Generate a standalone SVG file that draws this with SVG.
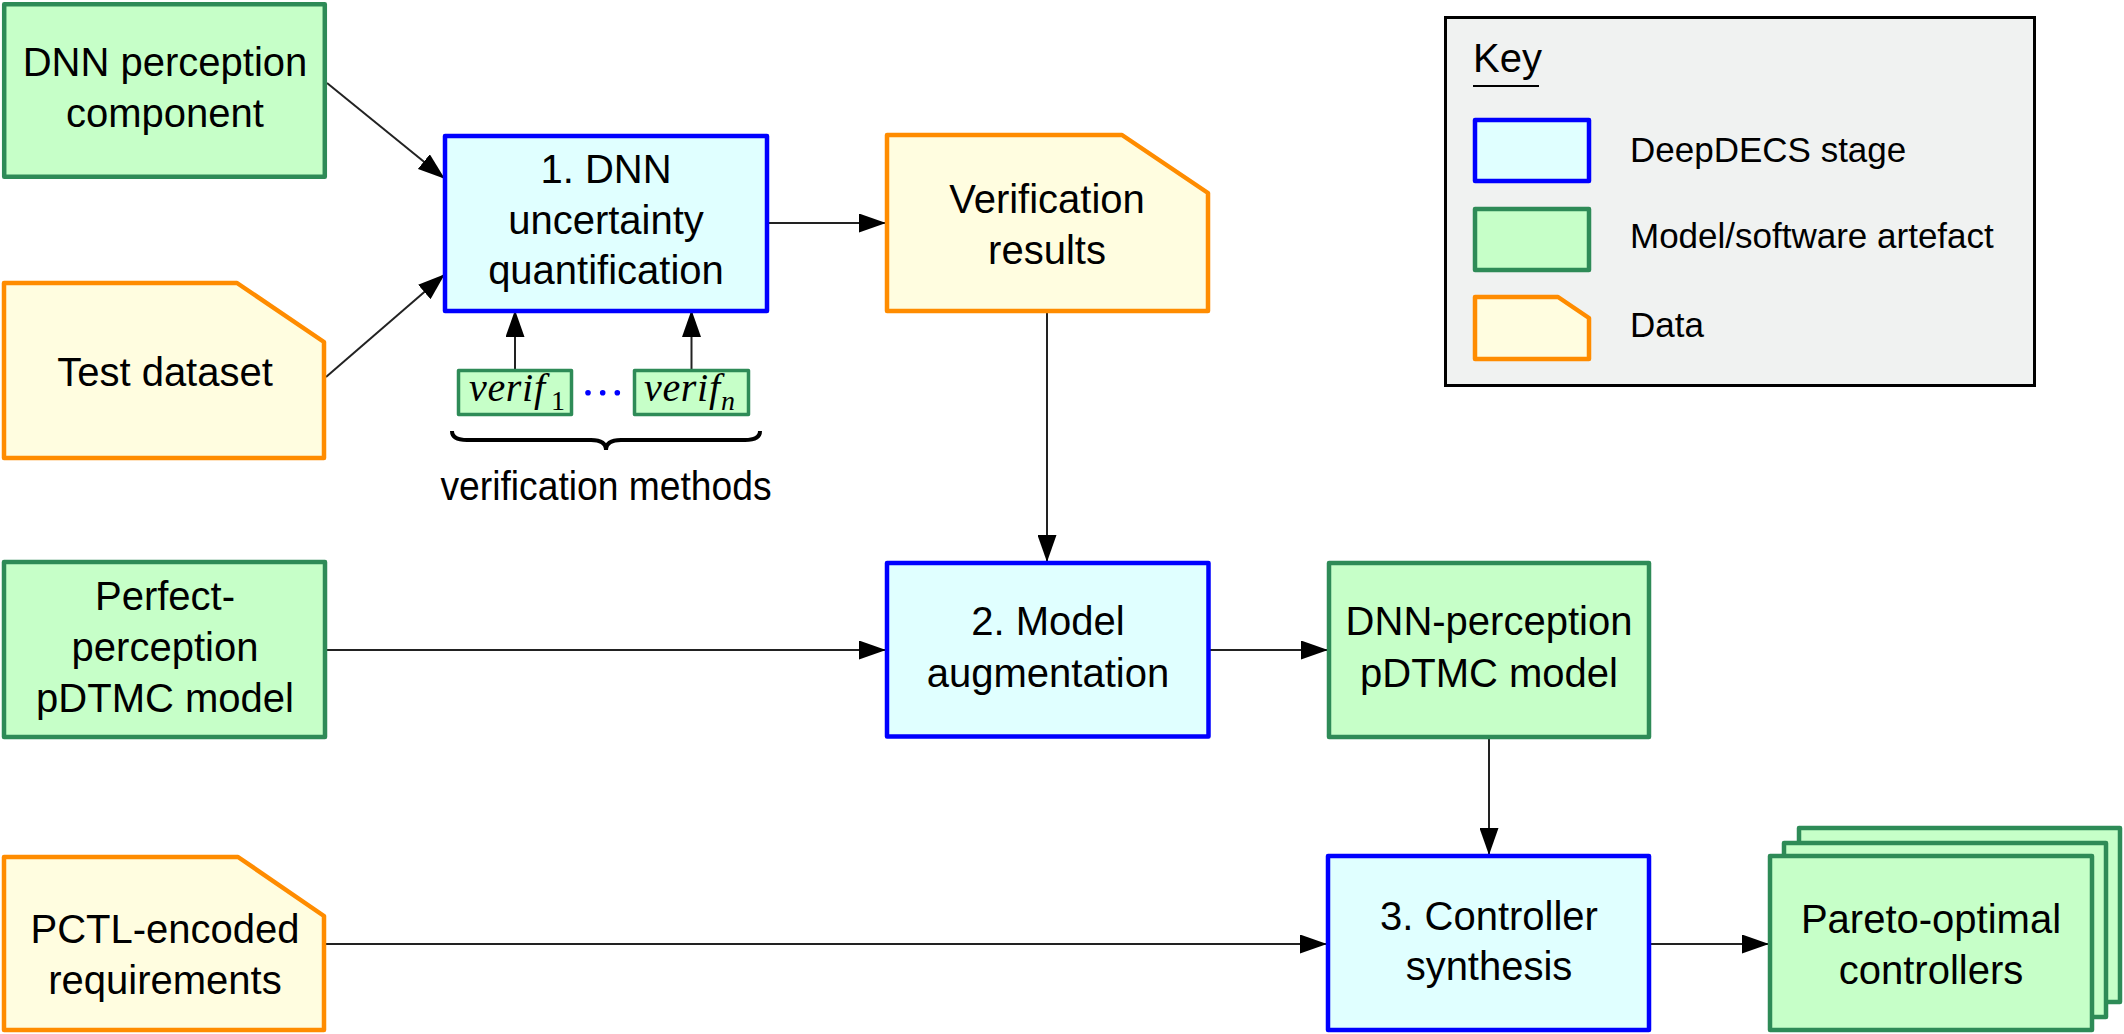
<svg xmlns="http://www.w3.org/2000/svg" width="2124" height="1034" viewBox="0 0 2124 1034">
<defs>
<style>
text{font-family:"Liberation Sans",Arial,sans-serif;font-size:40px;fill:#000;}
.c{text-anchor:middle;}
.stage{fill:#E0FFFF;stroke:#0000FF;stroke-width:4.5;stroke-linejoin:round;}
.art{fill:#C6FFC8;stroke:#2E8B57;stroke-width:4.5;stroke-linejoin:round;}
.data{fill:#FFFDE0;stroke:#FF8C00;stroke-width:4.5;stroke-linejoin:round;}
.small{stroke-width:3.5;}
.conn line{stroke:#222;stroke-width:2;marker-end:url(#arr);}
.lg{font-size:35px;}
.m{font-family:"Liberation Serif","Times New Roman",serif;font-style:italic;font-size:40px;}
.sub{font-family:"Liberation Serif","Times New Roman",serif;font-size:28px;}
</style>
<marker id="arr" markerUnits="userSpaceOnUse" markerWidth="27" markerHeight="19" viewBox="0 0 27 19" refX="26" refY="9.5" orient="auto">
<path d="M0,0 L27,9.5 L0,19 Z" fill="#000"/>
</marker>
</defs>
<rect width="2124" height="1034" fill="#fff"/>

<g id="connectors" class="conn">
<line x1="327" y1="83" x2="444" y2="178"/>
<line x1="326" y1="377" x2="444" y2="275"/>
<line x1="515" y1="369" x2="515" y2="311"/>
<line x1="691.5" y1="369" x2="691.5" y2="311"/>
<line x1="769" y1="223" x2="885" y2="223"/>
<line x1="1047" y1="313" x2="1047" y2="561"/>
<line x1="327" y1="650" x2="885" y2="650"/>
<line x1="1210" y1="650" x2="1327" y2="650"/>
<line x1="1489" y1="739" x2="1489" y2="854"/>
<line x1="326" y1="944" x2="1326" y2="944"/>
<line x1="1651" y1="944" x2="1768" y2="944"/>
</g>

<g id="dnn-perception-component">
<rect class="art" x="4.2" y="4.2" width="320.6" height="172.6"/>
<text class="c" x="165" y="76">DNN perception</text>
<text class="c" x="165" y="126.5">component</text>
</g>

<g id="test-dataset">
<path class="data" d="M4,283 H237 L324,342 V458 H4 Z"/>
<text class="c" x="165" y="385.5">Test dataset</text>
</g>

<g id="stage1">
<rect class="stage" x="445" y="136" width="322" height="175"/>
<text class="c" x="606" y="183">1. DNN</text>
<text class="c" x="606" y="233.5">uncertainty</text>
<text class="c" x="606" y="284">quantification</text>
</g>

<g id="verif1">
<rect class="art small" x="458.5" y="370.5" width="113" height="44"/>
<text class="m" x="469" y="401" textLength="76" lengthAdjust="spacing">verif</text>
<text class="sub" x="551" y="410">1</text>
</g>

<g id="dots">
<circle cx="588" cy="392.7" r="2.8" fill="#0000FF"/>
<circle cx="602.7" cy="392.7" r="2.8" fill="#0000FF"/>
<circle cx="617.3" cy="392.7" r="2.8" fill="#0000FF"/>
</g>

<g id="verifn">
<rect class="art small" x="634.5" y="370.5" width="114" height="44"/>
<text class="m" x="644" y="401" textLength="76" lengthAdjust="spacing">verif</text>
<text class="sub" x="721" y="410" font-style="italic">n</text>
</g>

<g id="verification-methods">
<path d="M452,431 Q452,440 467,440 H591 Q606,440 606,450 Q606,440 621,440 H745 Q760,440 760,431" fill="none" stroke="#000" stroke-width="4"/>
<text class="c" x="606" y="500" textLength="331" lengthAdjust="spacingAndGlyphs">verification methods</text>
</g>

<g id="verification-results">
<path class="data" d="M887,135 H1122 L1208,193 V311 H887 Z"/>
<text class="c" x="1047" y="213">Verification</text>
<text class="c" x="1047" y="263.5">results</text>
</g>

<g id="key">
<rect x="1445.5" y="17.5" width="589" height="368" fill="#F0F2F1" stroke="#000" stroke-width="3"/>
<text x="1473" y="72">Key</text>
<line x1="1473" y1="86" x2="1539" y2="86" stroke="#000" stroke-width="2"/>
<rect class="stage" x="1475" y="120" width="114" height="61"/>
<text class="lg" x="1630" y="162">DeepDECS stage</text>
<rect class="art" x="1475" y="209" width="114" height="61"/>
<text class="lg" x="1630" y="248">Model/software artefact</text>
<path class="data" d="M1475,297 H1558 L1589,318 V359 H1475 Z"/>
<text class="lg" x="1630" y="336.5">Data</text>
</g>

<g id="perfect-perception">
<rect class="art" x="4" y="562" width="321" height="175"/>
<text class="c" x="165" y="610">Perfect-</text>
<text class="c" x="165" y="660.5">perception</text>
<text class="c" x="165" y="712">pDTMC model</text>
</g>

<g id="stage2">
<rect class="stage" x="887" y="563" width="321.5" height="173.5"/>
<text class="c" x="1048" y="635">2. Model</text>
<text class="c" x="1048" y="687">augmentation</text>
</g>

<g id="dnn-perception-pdtmc">
<rect class="art" x="1329" y="563" width="320" height="174"/>
<text class="c" x="1489" y="635">DNN-perception</text>
<text class="c" x="1489" y="687">pDTMC model</text>
</g>

<g id="pctl-requirements">
<path class="data" d="M4,857 H238 L324,916 V1030 H4 Z"/>
<text class="c" x="165" y="943">PCTL-encoded</text>
<text class="c" x="165" y="994">requirements</text>
</g>

<g id="stage3">
<rect class="stage" x="1328" y="856" width="321" height="174"/>
<text class="c" x="1489" y="930">3. Controller</text>
<text class="c" x="1489" y="980">synthesis</text>
</g>

<g id="pareto-controllers">
<rect class="art" x="1799" y="828" width="321" height="174"/>
<rect class="art" x="1784" y="843" width="322" height="174"/>
<rect class="art" x="1770" y="856" width="322" height="174"/>
<text class="c" x="1931" y="933">Pareto-optimal</text>
<text class="c" x="1931" y="984">controllers</text>
</g>
</svg>
